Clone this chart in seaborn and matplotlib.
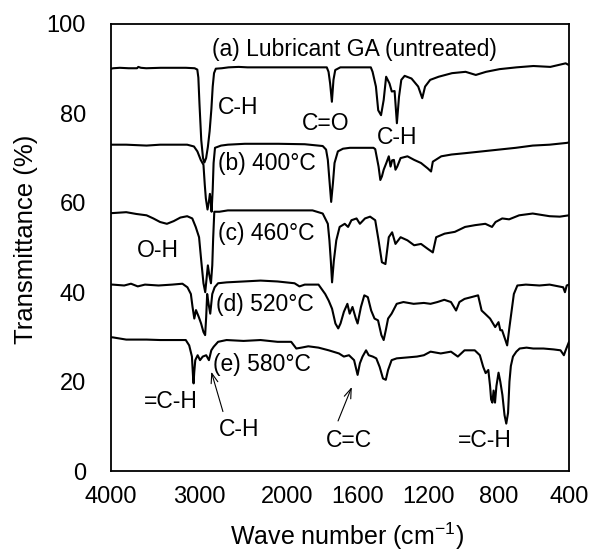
import numpy as np
import pandas as pd
import matplotlib
matplotlib.use("Agg")
import matplotlib.pyplot as plt
import seaborn as sns

# FTIR spectra of lubricant GA, untreated and after heating
wn_a = [4000, 3973, 3900, 3800, 3704, 3690, 3660, 3600, 3435, 3300, 3150, 3050, 3020, 3008,
        2995, 2975, 2955, 2940, 2920, 2900, 2880, 2860, 2845, 2830, 2810, 2742, 2665, 2550,
        2450, 2281, 2100, 1948, 1860, 1775, 1765, 1756, 1746, 1737, 1727, 1698, 1600, 1525,
        1515, 1496, 1483, 1467, 1452, 1438, 1419, 1406, 1390, 1377, 1365, 1352, 1333, 1294,
        1256, 1233, 1217, 1188, 1140, 1064, 987, 929, 871, 794, 698, 602, 506, 419, 400]
tr_a = [90.0, 90.1, 90.2, 90.1, 90.1, 90.4, 90.2, 90.1, 90.2, 90.2, 90.2, 90.1, 89.8, 88.0,
        82.0, 74.0, 70.0, 69.0, 70.0, 72.5, 76.0, 81.0, 86.0, 89.0, 90.0, 90.1, 90.3, 90.4,
        90.3, 90.3, 90.3, 90.3, 90.3, 90.3, 89.3, 86.7, 82.6, 87.5, 89.7, 90.3, 90.3, 90.3,
        89.3, 86.0, 80.7, 79.6, 83.0, 88.2, 86.7, 84.9, 85.0, 77.8, 83.7, 87.5, 88.4, 87.8,
        86.0, 83.4, 86.0, 87.5, 88.2, 89.0, 89.3, 88.6, 89.3, 89.9, 90.3, 90.6, 90.4, 91.2, 90.8]

wn_b = [4000, 3981, 3827, 3596, 3442, 3135, 3058, 3019, 2981, 2950, 2935, 2923, 2904, 2890,
        2877, 2865, 2858, 2845, 2835, 2819, 2750, 2673, 2480, 2100, 1900, 1798, 1779, 1769,
        1760, 1750, 1740, 1731, 1712, 1683, 1644, 1510, 1500, 1481, 1471, 1462, 1452, 1437,
        1423, 1413, 1404, 1394, 1385, 1375, 1356, 1317, 1279, 1240, 1202, 1183, 1173, 1125,
        1067, 990, 894, 798, 702, 606, 510, 413, 400]
tr_b = [73.0, 73.0, 73.0, 72.8, 73.0, 73.0, 72.6, 71.5, 69.6, 68.5, 64.0, 61.0, 58.5, 60.0,
        62.0, 60.0, 58.0, 63.0, 68.9, 72.3, 72.8, 73.0, 73.2, 73.2, 73.1, 72.7, 71.9, 69.6,
        65.1, 60.2, 64.4, 68.9, 71.5, 72.1, 72.3, 72.3, 72.0, 68.1, 65.1, 65.9, 67.4, 68.9,
        70.4, 68.1, 69.5, 69.6, 67.4, 68.1, 70.0, 70.4, 69.6, 68.9, 67.7, 67.0, 69.2, 70.4,
        70.8, 71.1, 71.5, 71.9, 72.3, 72.8, 73.0, 73.4, 73.5]

wn_c = [4000, 3981, 3827, 3712, 3596, 3519, 3442, 3365, 3288, 3212, 3135, 3077, 3038, 3000,
        2975, 2950, 2930, 2915, 2900, 2885, 2865, 2850, 2840, 2827, 2769, 2673, 2300, 1856,
        1798, 1769, 1760, 1752, 1745, 1735, 1721, 1702, 1673, 1654, 1635, 1606, 1587, 1558,
        1529, 1500, 1481, 1462, 1442, 1423, 1404, 1385, 1356, 1317, 1279, 1240, 1202, 1173,
        1154, 1106, 1048, 990, 933, 875, 837, 817, 779, 740, 683, 606, 510, 452, 400]
tr_c = [57.7, 57.7, 57.9, 57.5, 57.2, 56.5, 55.7, 55.3, 55.9, 56.7, 57.0, 56.5, 54.6, 52.3,
        47.0, 42.0, 40.0, 43.0, 46.0, 44.0, 42.0, 46.0, 52.0, 58.0, 58.0, 58.3, 58.3, 58.3,
        57.6, 55.3, 51.6, 47.0, 42.2, 47.0, 51.6, 54.6, 55.3, 54.6, 56.1, 56.5, 55.3, 56.5,
        56.9, 56.1, 51.6, 46.7, 46.3, 52.3, 53.4, 50.8, 52.3, 51.6, 50.5, 50.8, 49.7, 48.9,
        52.3, 53.1, 53.5, 54.6, 55.0, 55.3, 54.6, 55.7, 56.5, 56.3, 57.2, 57.6, 57.0, 56.9, 57.2]

wn_d = [4000, 3981, 3850, 3773, 3696, 3614, 3460, 3305, 3189, 3132, 3093, 3074, 3054, 3035,
        3004, 2977, 2950, 2931, 2919, 2908, 2892, 2873, 2850, 2823, 2784, 2688, 2495, 2302,
        2109, 1958, 1930, 1900, 1822, 1784, 1764, 1745, 1726, 1710, 1697, 1678, 1658, 1645,
        1629, 1610, 1600, 1581, 1562, 1542, 1523, 1504, 1484, 1465, 1452, 1440, 1427, 1407,
        1378, 1340, 1282, 1224, 1186, 1147, 1108, 1070, 1041, 1022, 993, 954, 916, 896, 877,
        848, 819, 800, 790, 780, 761, 751, 738, 713, 693, 645, 568, 510, 433, 423, 413, 400]
tr_d = [41.7, 41.7, 41.5, 41.9, 41.3, 41.7, 41.5, 41.7, 41.9, 41.1, 39.6, 36.7, 34.1, 36.0,
        34.5, 33.0, 31.1, 30.4, 34.5, 39.6, 37.4, 35.2, 39.6, 41.1, 42.0, 42.2, 42.4, 42.6,
        42.4, 42.0, 41.3, 41.7, 41.7, 39.6, 38.1, 36.3, 33.0, 31.9, 33.0, 35.6, 37.4, 35.2,
        36.7, 34.1, 33.0, 36.7, 39.3, 38.9, 35.9, 34.1, 33.7, 30.4, 29.3, 31.5, 34.1, 35.2,
        37.4, 37.8, 37.4, 37.6, 37.4, 37.8, 38.3, 37.8, 35.9, 37.8, 38.5, 38.9, 39.3, 35.9, 35.2,
        34.1, 32.2, 33.3, 31.5, 31.5, 29.3, 28.1, 32.2, 39.6, 41.5, 41.7, 41.5, 41.7, 41.1, 40.0, 41.5, 41.7]

wn_e = [4000, 3981, 3827, 3596, 3442, 3288, 3151, 3112, 3081, 3068, 3062, 3055, 3043, 3016,
        2989, 2958, 2919, 2888, 2861, 2834, 2784, 2688, 2495, 2302, 2109, 1977, 1948, 1919,
        1880, 1822, 1764, 1706, 1678, 1649, 1620, 1600, 1587, 1572, 1552, 1537, 1514, 1494,
        1475, 1456, 1440, 1427, 1407, 1378, 1320, 1263, 1224, 1186, 1128, 1070, 1031, 993,
        935, 906, 887, 873, 858, 848, 842, 835, 828, 820, 812, 800, 790, 778, 766, 756, 746,
        738, 730, 718, 699, 680, 641, 603, 545, 487, 448, 429, 419, 410, 400]
tr_e = [29.9, 29.9, 29.4, 29.4, 29.3, 29.3, 29.3, 28.1, 25.6, 21.0, 19.6, 22.0, 24.8, 25.9,
        24.8, 25.6, 25.9, 24.8, 27.0, 27.8, 28.9, 29.3, 29.1, 29.3, 28.9, 28.9, 27.4, 27.6,
        27.9, 27.6, 27.0, 26.3, 25.6, 25.9, 24.8, 21.5, 24.1, 25.6, 27.0, 25.9, 25.6, 25.2,
        23.3, 20.7, 20.4, 22.6, 24.8, 25.2, 25.4, 25.6, 25.9, 26.7, 26.3, 26.7, 25.6, 27.0,
        27.0, 25.9, 23.3, 21.9, 22.6, 19.0, 16.0, 15.3, 18.0, 15.3, 19.0, 22.0, 20.0, 17.0,
        12.5, 10.6, 13.0, 20.0, 23.5, 25.6, 26.7, 27.4, 27.6, 27.4, 27.4, 27.2, 27.0, 25.9,
        27.0, 27.9, 28.9]

spectra = {"a": (wn_a, tr_a), "b": (wn_b, tr_b), "c": (wn_c, tr_c),
           "d": (wn_d, tr_d), "e": (wn_e, tr_e)}

x_major = [4000, 3000, 2000, 1600, 1200, 800, 400]
x_minor = [3500, 2500, 1800, 1400, 1000, 600]
y_major = [0, 20, 40, 60, 80, 100]
y_minor = [10, 30, 50, 70, 90]

sns.set_style("white")
plt.rcParams["font.family"] = ["Liberation Sans", "DejaVu Sans"]
plt.rcParams["mathtext.fontset"] = "custom"
plt.rcParams["mathtext.rm"] = "Liberation Sans"
plt.rcParams["mathtext.it"] = "Liberation Sans:italic"
plt.rcParams["text.color"] = "black"
plt.rcParams["axes.labelcolor"] = "black"
plt.rcParams["xtick.color"] = "black"
plt.rcParams["ytick.color"] = "black"


def fwd(w):
    # wavenumbers below 2000 cm-1 are drawn on a doubled scale
    w = np.asarray(w, dtype=float)
    return np.where(w >= 2000, w, 2.0 * w - 2000.0)


def inv(u):
    u = np.asarray(u, dtype=float)
    return np.where(u >= 2000, u, (u + 2000.0) / 2.0)


fig = plt.figure(figsize=(5.9, 5.54), dpi=100)
ax = fig.add_axes([0.1881, 0.1498, 0.7763, 0.8069])
ax.set_xscale("function", functions=(fwd, inv))

frames = []
for key, (w, t) in spectra.items():
    frames.append(pd.DataFrame({"wavenumber": w, "T": t, "sample": key}))
df = pd.concat(frames, ignore_index=True)

for key in spectra:
    sub = df[df["sample"] == key]
    sns.lineplot(data=sub, x="wavenumber", y="T", ax=ax, color="black",
                 lw=1.5, estimator=None, sort=False, legend=False)

ax.set_xlim(4000, 400)
ax.set_ylim(0, 100)
ax.set_xticks(x_major)
ax.set_xticks(x_minor, minor=True)
ax.set_xticklabels([str(v) for v in x_major])
ax.set_yticks(y_major)
ax.set_yticks(y_minor, minor=True)

for s in ax.spines.values():
    s.set_linewidth(1.3)
    s.set_color("black")

ax.tick_params(axis="both", which="both", direction="in", length=6, width=1.1,
               top=False, right=False, colors="black", labelcolor="black")
ax.tick_params(axis="x", which="major", labelsize=17, pad=11)
ax.tick_params(axis="y", which="major", labelsize=17, pad=18)

ax.set_xlabel("Wave number (cm$^{-1}$)", fontsize=18, color="black")
ax.set_ylabel("Transmittance (%)", fontsize=18.5, color="black")
ax.xaxis.set_label_coords(0.515, -0.111)
ax.yaxis.set_label_coords(-0.159, 0.518)

fs = 16.5
kw = dict(fontsize=fs, va="center", color="black")
ax.text(2854, 94.2, "(a) Lubricant GA (untreated)", ha="left", **kw)
ax.text(2781, 81.3, "C-H", ha="left", **kw)
ax.text(1780, 77.8, "C=O", ha="center", **kw)
ax.text(1375, 74.7, "C-H", ha="center", **kw)
ax.text(2789, 68.7, "(b) 400°C", ha="left", **kw)
ax.text(2789, 53.2, "(c) 460°C", ha="left", **kw)
ax.text(3462, 49.3, "O-H", ha="center", **kw)
ax.text(2803, 37.3, "(d) 520°C", ha="left", **kw)
ax.text(2842, 23.9, "(e) 580°C", ha="left", **kw)
ax.text(3318, 15.5, "=C-H", ha="center", **kw)
ax.text(2548, 9.3, "C-H", ha="center", **kw)
ax.text(1652, 6.8, "C=C", ha="center", **kw)
ax.text(880, 6.8, "=C-H", ha="center", **kw)

arrow = dict(arrowstyle="->,head_length=0.7,head_width=0.25", lw=0.8, color="black",
             shrinkA=0, shrinkB=0)
ax.annotate("", xy=(2861, 22.2), xytext=(2729, 13.3), arrowprops=arrow)
ax.annotate("", xy=(1633, 18.8), xytext=(1711, 11.2), arrowprops=arrow)

fig.savefig("out.png", dpi=100)
